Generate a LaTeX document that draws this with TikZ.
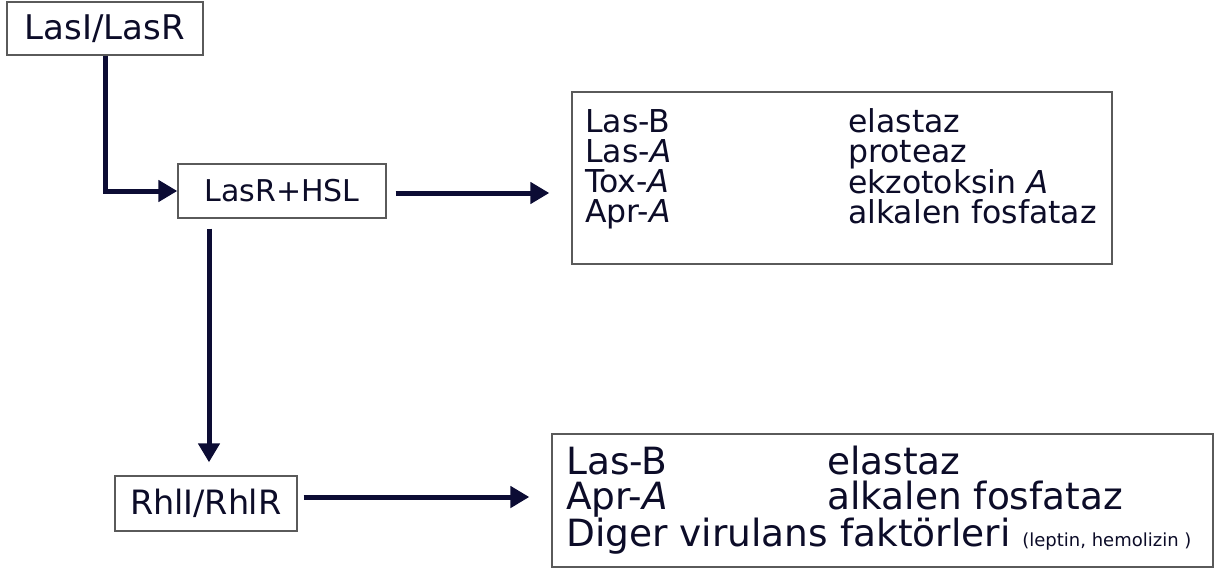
\documentclass[tikz,border=0pt]{standalone}
\usepackage{fontspec}
\setmainfont{DejaVu Sans}
\usetikzlibrary{arrows.meta,calc}
\definecolor{ink}{HTML}{0C0C28}
\definecolor{linec}{HTML}{0C0C34}
\definecolor{frame}{HTML}{5A5A5A}
\newcommand{\fs}[2]{\fontsize{#1}{#2}\selectfont}
\begin{document}
\begin{tikzpicture}[x=1pt,y=-1pt,
  box/.style={draw=frame,line width=1.3pt,fill=white,inner sep=0pt,text=ink},
  col/.style={anchor=north west,inner sep=0pt,align=left,text=ink},
  arr/.style={draw=linec,line width=5pt,-{Triangle[length=19pt,width=21pt]}}]
\useasboundingbox (0,0) rectangle (1223,571);
% boxes
\node[box,minimum width=196pt,minimum height=53pt,font=\fs{34}{34}] (lasi) at (105,28.5) {LasI/LasR};
\node[box,minimum width=208pt,minimum height=54pt,font=\fs{30}{30}] (lasr) at (282,191) {LasR+HSL};
\node[box,minimum width=182pt,minimum height=55pt,font=\fs{33.5}{33.5}] (rhl) at (206,503.5) {Rh\kern-0.02em lI/Rh\kern-0.02em lR};
\node[box,minimum width=540pt,minimum height=172pt] (top) at (842,178) {};
\node[box,minimum width=661pt,minimum height=133pt] (bot) at (882.5,500.5) {};
% top list
\node[col,font=\fs{31.5}{30}] (tleft) at (585,109) {Las-B\\Las-\textit{A}\\Tox-\textit{A}\\Apr-\textit{A}};
\node[col,font=\fs{31.5}{30}] (tright) at (848,108) {elastaz\\proteaz\\ekzotoksin \textit{A}\\alkalen fosfataz};
% bottom list
\node[col,font=\fs{37.5}{35}] (bleft) at (566,446.5) {Las-B\\Apr-\textit{A}\\Diger virulans faktörleri {\fs{18}{18}(leptin, hemolizin )}};
\node[col,font=\fs{37.5}{35}] (bright) at (827,445.5) {elastaz\\alkalen fosfataz};
% connectors
\draw[arr] (lasi.south) |- (lasr.west);
\draw[arr] ($(lasr.east)+(9,2)$) -- ($(top.west |- lasr.east)+(-22,2)$);
\draw[arr] ($(lasr.south)+(-73,10)$) -- ($(rhl.north)+(3,-13)$);
\draw[arr] ($(rhl.east)+(6,-6.5)$) -- ($(bot.west)+(-22,-3.5)$);
\end{tikzpicture}
\end{document}
